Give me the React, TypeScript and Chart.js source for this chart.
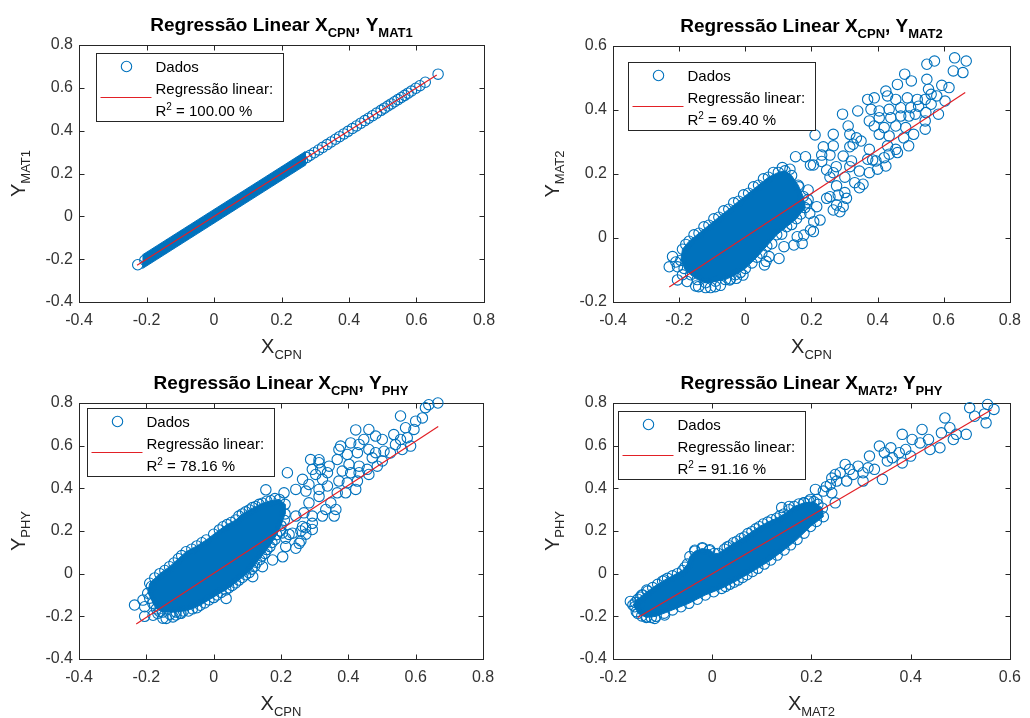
import React, { useEffect, useRef } from 'react';
import { Chart, registerables } from 'chart.js';

Chart.register(...registerables);

const FONT = '"Liberation Sans", Arial, Helvetica, sans-serif';
const BLUE = 'rgb(0,114,189)';
const RED = 'rgb(226,32,38)';
const AXIS = '#262626';
const TICK_TEXT = '#333333';
const MARK_R = 5.2;

// ---------- tick labels ----------
const ticksA_X = [-0.4, -0.2, 0, 0.2, 0.4, 0.6, 0.8];
const ticksA_Y = [-0.4, -0.2, 0, 0.2, 0.4, 0.6, 0.8];
const ticksB_X = [-0.4, -0.2, 0, 0.2, 0.4, 0.6, 0.8];
const ticksB_Y = [-0.2, 0, 0.2, 0.4, 0.6];
const ticksC_X = [-0.4, -0.2, 0, 0.2, 0.4, 0.6, 0.8];
const ticksC_Y = [-0.4, -0.2, 0, 0.2, 0.4, 0.6, 0.8];
const ticksD_X = [-0.2, 0, 0.2, 0.4, 0.6];
const ticksD_Y = [-0.4, -0.2, 0, 0.2, 0.4, 0.6, 0.8];

// ---------- R² values ----------
const r2A = '100.00';
const r2B = '69.40';
const r2C = '78.16';
const r2D = '91.16';

// ---------- Panel A: X_CPN vs Y_MAT1 ----------
const fitAX = [-0.228, 0.66];
const fitAY = [-0.228, 0.66];
const coreAX = [-0.212, 0.27, 0.27, -0.212];
const coreAY = [-0.18, 0.302, 0.238, -0.244];
const ptsAX = [-0.226, -0.205, -0.19, -0.17, -0.15, -0.13, -0.11, -0.09, -0.07, -0.05, -0.03, -0.01, 0.01, 0.03, 0.05, 0.07, 0.09, 0.11, 0.13, 0.15, 0.17, 0.19, 0.21, 0.23, 0.25, 0.262, 0.275, 0.285, 0.297, 0.31, 0.322, 0.335, 0.347, 0.36, 0.372, 0.385, 0.397, 0.41, 0.422, 0.435, 0.447, 0.458, 0.47, 0.482, 0.495, 0.505, 0.515, 0.525, 0.535, 0.545, 0.555, 0.565, 0.575, 0.585, 0.598, 0.61, 0.626, 0.664];
const ptsAY = [-0.226, -0.205, -0.19, -0.17, -0.15, -0.13, -0.11, -0.09, -0.07, -0.05, -0.03, -0.01, 0.01, 0.03, 0.05, 0.07, 0.09, 0.11, 0.13, 0.15, 0.17, 0.19, 0.21, 0.23, 0.25, 0.262, 0.275, 0.285, 0.297, 0.31, 0.322, 0.335, 0.347, 0.36, 0.372, 0.385, 0.397, 0.41, 0.422, 0.435, 0.447, 0.458, 0.47, 0.482, 0.495, 0.505, 0.515, 0.525, 0.535, 0.545, 0.555, 0.565, 0.575, 0.585, 0.598, 0.61, 0.626, 0.664];

// ---------- Panel B: X_CPN vs Y_MAT2 ----------
const fitBX = [-0.23, 0.665];
const fitBY = [-0.153, 0.455];
const coreBX = [-0.195, -0.19, -0.17, -0.14, -0.11, -0.08, -0.05, -0.02, 0.01, 0.04, 0.07, 0.1, 0.12, 0.14, 0.16, 0.175, 0.18, 0.155, 0.125, 0.095, 0.065, 0.035, 0.0, -0.03, -0.06, -0.09, -0.12, -0.145, -0.165, -0.185];
const coreBY = [-0.07, -0.035, -0.01, 0.015, 0.04, 0.065, 0.09, 0.115, 0.14, 0.165, 0.19, 0.205, 0.21, 0.195, 0.165, 0.13, 0.095, 0.06, 0.035, 0.01, -0.025, -0.06, -0.095, -0.115, -0.13, -0.135, -0.14, -0.13, -0.115, -0.095];
const ptsBX = [0.633, 0.668, 0.629, 0.658, 0.549, 0.572, 0.482, 0.502, 0.46, 0.549, 0.594, 0.616, 0.425, 0.43, 0.39, 0.37, 0.455, 0.49, 0.52, 0.544, 0.562, 0.579, 0.604, 0.554, 0.294, 0.34, 0.38, 0.405, 0.435, 0.47, 0.5, 0.524, 0.562, 0.546, 0.584, 0.375, 0.405, 0.44, 0.47, 0.495, 0.514, 0.544, 0.39, 0.42, 0.455, 0.485, 0.509, 0.544, 0.311, 0.316, 0.336, 0.326, 0.35, 0.266, 0.405, 0.435, 0.479, 0.494, 0.375, 0.43, 0.455, 0.46, 0.435, 0.266, 0.296, 0.321, 0.37, 0.395, 0.42, 0.425, 0.345, 0.375, 0.4, 0.331, 0.356, 0.345, 0.276, 0.301, 0.266, 0.197, 0.231, 0.256, 0.316, 0.385, 0.301, 0.316, 0.256, 0.281, 0.306, 0.246, 0.276, 0.266, 0.286, 0.296, 0.226, 0.207, 0.197, 0.177, 0.172, 0.216, 0.256, 0.072, 0.102, 0.058, 0.147, 0.206, 0.211, 0.236, 0.182, 0.152, 0.206, 0.231, 0.246, 0.275, -0.23, -0.205, -0.22, -0.205, -0.176, -0.141, -0.091, -0.047, -0.027, -0.007, 0.063, -0.21, -0.19, -0.12, 0.162, 0.19, 0.195, 0.165, 0.117, 0.157,
  -0.18, -0.155, -0.125, -0.095, -0.065, -0.035, -0.005, 0.025, 0.055, 0.085, 0.112, 0.135, -0.15, -0.105, -0.075, -0.045, -0.015, 0.02, 0.05, 0.08, 0.11, 0.14, 0.168, 0.185, 0.19];
const ptsBY = [0.563, 0.553, 0.522, 0.517, 0.543, 0.553, 0.512, 0.491, 0.48, 0.496, 0.477, 0.47, 0.459, 0.444, 0.438, 0.433, 0.433, 0.438, 0.433, 0.433, 0.449, 0.444, 0.428, 0.465, 0.387, 0.397, 0.402, 0.397, 0.402, 0.407, 0.407, 0.412, 0.418, 0.392, 0.387, 0.366, 0.376, 0.376, 0.381, 0.381, 0.387, 0.366, 0.35, 0.345, 0.35, 0.345, 0.324, 0.34, 0.35, 0.324, 0.313, 0.293, 0.303, 0.324, 0.324, 0.319, 0.313, 0.288, 0.277, 0.288, 0.277, 0.267, 0.262, 0.288, 0.256, 0.241, 0.246, 0.241, 0.251, 0.225, 0.209, 0.204, 0.215, 0.173, 0.168, 0.157, 0.163, 0.142, 0.204, 0.228, 0.259, 0.259, 0.285, 0.244, 0.19, 0.223, 0.19, 0.134, 0.124, 0.124, 0.103, 0.0875, 0.082, 0.098, 0.056, 0.051, 0.025, 0.009, -0.017, 0.098, 0.129, -0.058, -0.064, -0.084, -0.022, 0.02, 0.322, 0.285, 0.254, 0.254, 0.228, 0.239, 0.2125, 0.223, -0.09, -0.09, -0.058, -0.131, -0.136, -0.152, -0.152, -0.131, -0.126, -0.116, -0.073, -0.075, -0.115, -0.155, 0.16, 0.12, 0.077, 0.098, -0.027, 0.004,
  -0.02, 0.01, 0.035, 0.06, 0.085, 0.11, 0.135, 0.16, 0.185, 0.205, 0.22, 0.215, -0.15, -0.155, -0.148, -0.128, -0.108, -0.078, -0.048, -0.018, 0.012, 0.042, 0.075, 0.11, 0.15];

// ---------- Panel C: X_CPN vs Y_PHY ----------
const fitCX = [-0.23, 0.667];
const fitCY = [-0.236, 0.69];
const coreCX = [-0.196, -0.19, -0.16, -0.131, -0.105, -0.082, -0.05, -0.022, 0.017, 0.04, 0.066, 0.085, 0.106, 0.125, 0.145, 0.17, 0.195, 0.212, 0.212, 0.2, 0.187, 0.173, 0.158, 0.143, 0.128, 0.113, 0.095, 0.075, 0.055, 0.036, 0.01, -0.014, -0.04, -0.063, -0.09, -0.112, -0.151, -0.17, -0.181];
const coreCY = [-0.092, -0.045, 0.0, 0.033, 0.07, 0.103, 0.13, 0.158, 0.205, 0.23, 0.252, 0.28, 0.299, 0.315, 0.33, 0.342, 0.348, 0.325, 0.28, 0.225, 0.183, 0.146, 0.113, 0.083, 0.053, 0.021, -0.005, -0.03, -0.055, -0.076, -0.1, -0.123, -0.148, -0.165, -0.175, -0.18, -0.18, -0.165, -0.139];
const ptsCX = [0.555, 0.629, 0.639, 0.666, 0.6, 0.62, 0.57, 0.595, 0.535, 0.555, 0.575, 0.54, 0.56, 0.525, 0.585, 0.461, 0.481, 0.501, 0.446, 0.432, 0.407, 0.377, 0.427, 0.461, 0.481, 0.506, 0.471, 0.501, 0.372, 0.397, 0.367, 0.402, 0.432, 0.456, 0.461, 0.486, 0.432, 0.407, 0.382, 0.372, 0.397, 0.427, 0.422, 0.392, 0.367, 0.343, 0.338, 0.318, 0.303, 0.323, 0.313, 0.338, 0.288, 0.313, 0.293, 0.219, 0.264, 0.244, 0.274, 0.283, 0.209, 0.348, 0.363, 0.333, 0.323, 0.358, 0.283, 0.268, 0.293, 0.244, 0.273, 0.293, 0.259, 0.224, 0.204, 0.155, 0.313, 0.422, 0.274, 0.254, 0.214, 0.175, 0.145, 0.116, 0.214, 0.234, 0.259, 0.244, 0.205, 0.037, 0.264, 0.293, 0.313, -0.235, -0.205, -0.205, -0.18, -0.151, -0.121, -0.097, -0.21, -0.166, -0.141, -0.112,
  -0.185, -0.175, -0.145, -0.118, -0.095, -0.065, -0.035, 0.0, 0.028, 0.052, 0.075, 0.095, 0.115, 0.135, 0.158, 0.182, -0.19, -0.16, -0.13, -0.1, -0.075, -0.05, -0.027, 0.0, 0.022, 0.045, 0.065, 0.085, 0.105, 0.122, 0.137, 0.152, 0.167, 0.182, 0.198, 0.21];
const ptsCY = [0.739, 0.778, 0.792, 0.8, 0.715, 0.73, 0.684, 0.676, 0.652, 0.629, 0.637, 0.605, 0.582, 0.566, 0.598, 0.676, 0.645, 0.629, 0.629, 0.606, 0.613, 0.598, 0.567, 0.582, 0.567, 0.574, 0.543, 0.528, 0.582, 0.559, 0.535, 0.512, 0.504, 0.489, 0.465, 0.504, 0.473, 0.473, 0.481, 0.434, 0.426, 0.434, 0.395, 0.379, 0.379, 0.504, 0.473, 0.489, 0.465, 0.442, 0.395, 0.411, 0.535, 0.52, 0.489, 0.473, 0.442, 0.395, 0.387, 0.418, 0.379, 0.332, 0.301, 0.301, 0.27, 0.27, 0.332, 0.285, 0.27, 0.27, 0.215, 0.207, 0.2, 0.184, 0.191, 0.393, 0.534, 0.674, 0.185, 0.142, 0.127, 0.064, 0.033, -0.014, 0.166, 0.19, 0.153, 0.119, 0.079, -0.116, 0.221, 0.236, 0.362, -0.147, -0.155, -0.2, -0.195, -0.209, -0.203, -0.186, -0.124, -0.186, -0.21, -0.194,
  -0.06, -0.02, 0.015, 0.05, 0.085, 0.115, 0.145, 0.185, 0.22, 0.24, 0.27, 0.29, 0.31, 0.325, 0.34, 0.352, -0.115, -0.178, -0.19, -0.185, -0.175, -0.16, -0.137, -0.112, -0.088, -0.066, -0.043, -0.018, 0.005, 0.035, 0.065, 0.095, 0.127, 0.16, 0.2, 0.25];

// ---------- Panel D: X_MAT2 vs Y_PHY ----------
const fitDX = [-0.15, 0.563];
const fitDY = [-0.205, 0.768];
const coreDX = [-0.16, -0.15, -0.14, -0.12, -0.1, -0.08, -0.06, -0.05, -0.045, -0.035, -0.02, -0.005, 0.004, 0.012, 0.025, 0.035, 0.05, 0.065, 0.08, 0.095, 0.112, 0.13, 0.145, 0.165, 0.185, 0.205, 0.222, 0.224, 0.198, 0.171, 0.145, 0.118, 0.092, 0.07, 0.052, 0.035, 0.019, -0.014, -0.047, -0.08, -0.113, -0.133, -0.15];
const coreDY = [-0.147, -0.12, -0.1, -0.065, -0.035, -0.01, 0.015, 0.045, 0.08, 0.105, 0.118, 0.112, 0.095, 0.095, 0.115, 0.13, 0.152, 0.172, 0.197, 0.22, 0.242, 0.26, 0.28, 0.315, 0.332, 0.337, 0.307, 0.267, 0.221, 0.16, 0.111, 0.064, 0.025, -0.005, -0.03, -0.05, -0.069, -0.1, -0.139, -0.17, -0.2, -0.205, -0.186];
const ptsDX = [0.519, 0.555, 0.549, 0.529, 0.552, 0.568, 0.469, 0.479, 0.492, 0.512, 0.462, 0.486, 0.459, 0.436, 0.423, 0.439, 0.419, 0.403, 0.383, 0.39, 0.4, 0.377, 0.36, 0.347, 0.337, 0.363, 0.383, 0.353, 0.317, 0.314, 0.327, 0.294, 0.277, 0.268, 0.258, 0.284, 0.304, 0.271, 0.251, 0.248, 0.238, 0.224, 0.208, 0.211, 0.198, 0.185, 0.241, 0.248, 0.343, 0.304, 0.241, 0.155, 0.14, 0.23, -0.156, -0.142, -0.132, -0.153, -0.132, -0.116, -0.096, -0.096, -0.165, -0.145,
  -0.155, -0.145, -0.13, -0.11, -0.09, -0.07, -0.055, 0.03, 0.043, 0.058, 0.072, 0.088, 0.103, 0.12, 0.137, 0.155, 0.175, 0.195, 0.213, 0.21, 0.185, 0.158, 0.131, 0.105, 0.081, 0.061, 0.044, 0.027, 0.003, -0.03, -0.063, -0.097, -0.123, -0.142, -0.035, -0.02, -0.006];
const ptsDY = [0.778, 0.793, 0.749, 0.738, 0.707, 0.77, 0.73, 0.684, 0.653, 0.653, 0.66, 0.629, 0.59, 0.629, 0.676, 0.582, 0.613, 0.629, 0.653, 0.582, 0.551, 0.567, 0.59, 0.567, 0.598, 0.543, 0.519, 0.528, 0.551, 0.496, 0.489, 0.504, 0.489, 0.512, 0.473, 0.465, 0.473, 0.434, 0.434, 0.465, 0.418, 0.387, 0.395, 0.348, 0.348, 0.332, 0.379, 0.332, 0.442, 0.434, 0.448, 0.315, 0.31, 0.408, -0.155, -0.1, -0.077, -0.178, -0.202, -0.21, -0.194, -0.03, -0.13, -0.14,
  -0.135, -0.11, -0.082, -0.05, -0.022, 0.0, 0.03, 0.125, 0.145, 0.165, 0.188, 0.21, 0.233, 0.253, 0.272, 0.3, 0.327, 0.34, 0.325, 0.245, 0.19, 0.135, 0.087, 0.045, 0.01, -0.018, -0.04, -0.06, -0.085, -0.12, -0.155, -0.185, -0.205, -0.198, 0.11, 0.122, 0.108];

// ---------- layout (plot-box rectangles on the page) ----------
const RECT_A = { l: 79, t: 45, r: 484, b: 302 };
const RECT_B = { l: 613, t: 46, r: 1016, b: 302 };
const RECT_C = { l: 79, t: 403, r: 483, b: 659 };
const RECT_D = { l: 613, t: 403, r: 1016, b: 659 };
const W = 1030;
const H = 718;
const Y_AXIS_W = 60;
const X_AXIS_H = 30;

const panels = [
  { key: 'A', rect: RECT_A, xTicks: ticksA_X, yTicks: ticksA_Y, fitX: fitAX, fitY: fitAY, coreX: coreAX, coreY: coreAY, coreMarks: false, ptsX: ptsAX, ptsY: ptsAY, tx: 'CPN', ty: 'MAT1', xl: 'CPN', yl: 'MAT1', r2: r2A, leg: [17, 8] },
  { key: 'B', rect: RECT_B, xTicks: ticksB_X, yTicks: ticksB_Y, fitX: fitBX, fitY: fitBY, coreX: coreBX, coreY: coreBY, coreMarks: true, ptsX: ptsBX, ptsY: ptsBY, tx: 'CPN', ty: 'MAT2', xl: 'CPN', yl: 'MAT2', r2: r2B, leg: [15, 16] },
  { key: 'C', rect: RECT_C, xTicks: ticksC_X, yTicks: ticksC_Y, fitX: fitCX, fitY: fitCY, coreX: coreCX, coreY: coreCY, coreMarks: true, ptsX: ptsCX, ptsY: ptsCY, tx: 'CPN', ty: 'PHY', xl: 'CPN', yl: 'PHY', r2: r2C, leg: [8, 5] },
  { key: 'D', rect: RECT_D, xTicks: ticksD_X, yTicks: ticksD_Y, fitX: fitDX, fitY: fitDY, coreX: coreDX, coreY: coreDY, coreMarks: true, ptsX: ptsDX, ptsY: ptsDY, tx: 'MAT2', ty: 'PHY', xl: 'MAT2', yl: 'PHY', r2: r2D, leg: [5, 8] },
];

type Part = { t: string; size: number; bold?: boolean; dy?: number };

function fontOf(p: Part) {
  return `${p.bold ? 'bold ' : ''}${p.size}px ${FONT}`;
}
function richWidth(ctx: CanvasRenderingContext2D, parts: Part[]) {
  let w = 0;
  for (const p of parts) {
    ctx.font = fontOf(p);
    w += ctx.measureText(p.t).width;
  }
  return w;
}
function drawRich(ctx: CanvasRenderingContext2D, parts: Part[], x: number, y: number, align: 'left' | 'center') {
  let cx = align === 'center' ? x - richWidth(ctx, parts) / 2 : x;
  ctx.textAlign = 'left';
  ctx.textBaseline = 'alphabetic';
  for (const p of parts) {
    ctx.font = fontOf(p);
    ctx.fillText(p.t, cx, y + (p.dy || 0));
    cx += ctx.measureText(p.t).width;
  }
}

const zip = (xs: number[], ys: number[]) => xs.map((x, i) => ({ x, y: ys[i] }));
const fmtTick = (v: any) => {
  const r = Math.round(Number(v) * 10) / 10;
  return r === 0 ? '0' : String(r);
};

function makeDecor(p: any) {
  return {
    id: 'decor' + p.key,
    beforeDatasetsDraw(chart: any) {
      const { ctx, chartArea: a, scales } = chart;
      ctx.save();
      ctx.strokeStyle = AXIS;
      ctx.lineWidth = 1;
      const L = Math.round(a.left) + 0.5;
      const T = Math.round(a.top) + 0.5;
      const R = Math.round(a.right) + 0.5;
      const B = Math.round(a.bottom) + 0.5;
      ctx.strokeRect(L, T, R - L, B - T);
      const tl = 5;
      ctx.beginPath();
      for (const v of p.xTicks) {
        const x = Math.round(scales.x.getPixelForValue(v)) + 0.5;
        ctx.moveTo(x, B); ctx.lineTo(x, B - tl);
        ctx.moveTo(x, T); ctx.lineTo(x, T + tl);
      }
      for (const v of p.yTicks) {
        const y = Math.round(scales.y.getPixelForValue(v)) + 0.5;
        ctx.moveTo(L, y); ctx.lineTo(L + tl, y);
        ctx.moveTo(R, y); ctx.lineTo(R - tl, y);
      }
      ctx.stroke();
      ctx.restore();
    },
    afterDraw(chart: any) {
      const { ctx, chartArea: a } = chart;
      const cxm = (a.left + a.right) / 2;
      const cym = (a.top + a.bottom) / 2;
      ctx.save();
      // title
      ctx.fillStyle = '#000';
      drawRich(ctx, [
        { t: 'Regressão Linear X', size: 19, bold: true },
        { t: p.tx, size: 13, bold: true, dy: 6 },
        { t: ', Y', size: 19, bold: true },
        { t: p.ty, size: 13, bold: true, dy: 6 },
      ], cxm, a.top - 14, 'center');
      // x label
      ctx.fillStyle = AXIS;
      drawRich(ctx, [{ t: 'X', size: 20 }, { t: p.xl, size: 13, dy: 6 }], cxm, a.bottom + 51, 'center');
      // y label
      ctx.save();
      ctx.translate(a.left - 54, cym);
      ctx.rotate(-Math.PI / 2);
      drawRich(ctx, [{ t: 'Y', size: 20 }, { t: p.yl, size: 13, dy: 5 }], 0, 0, 'center');
      ctx.restore();
      // legend
      const bw = 187, bh = 68;
      const bx = Math.round(a.left + p.leg[0]) + 0.5;
      const by = Math.round(a.top + p.leg[1]) + 0.5;
      ctx.fillStyle = '#fff';
      ctx.fillRect(bx, by, bw, bh);
      ctx.strokeStyle = AXIS;
      ctx.lineWidth = 1;
      ctx.strokeRect(bx, by, bw, bh);
      ctx.beginPath();
      ctx.arc(bx + 30, by + 13, MARK_R, 0, Math.PI * 2);
      ctx.strokeStyle = BLUE;
      ctx.lineWidth = 1.1;
      ctx.stroke();
      ctx.beginPath();
      ctx.moveTo(bx + 4, by + 44);
      ctx.lineTo(bx + 55, by + 44);
      ctx.strokeStyle = RED;
      ctx.lineWidth = 1;
      ctx.stroke();
      ctx.fillStyle = '#000';
      drawRich(ctx, [{ t: 'Dados', size: 15 }], bx + 59, by + 18.5, 'left');
      drawRich(ctx, [{ t: 'Regressão linear:', size: 15 }], bx + 59, by + 40.5, 'left');
      drawRich(ctx, [{ t: 'R', size: 15 }, { t: '2', size: 10, dy: -6 }, { t: ' = ' + p.r2 + ' %', size: 15 }], bx + 59, by + 62.5, 'left');
      ctx.restore();
    },
  };
}

function makeConfig(p: any): any {
  const r = p.rect;
  return {
    type: 'scatter',
    data: {
      datasets: [
        {
          type: 'line', data: zip(p.fitX, p.fitY), borderColor: RED, borderWidth: 1.2,
          pointRadius: 0, fill: false, tension: 0, order: 0,
        },
        {
          type: 'scatter', data: zip(p.ptsX, p.ptsY), pointRadius: MARK_R, pointBorderWidth: 1.1,
          borderColor: BLUE, backgroundColor: 'rgba(0,0,0,0)', clip: false, order: 1,
        },
        {
          type: 'line', data: zip(p.coreX, p.coreY), borderColor: BLUE, borderWidth: 1,
          backgroundColor: BLUE, fill: 'shape', tension: 0, order: 2, clip: false,
          pointRadius: p.coreMarks ? MARK_R : 0, pointBorderWidth: 1.1, pointBorderColor: BLUE,
          pointBackgroundColor: 'rgba(0,0,0,0)',
        },
      ],
    },
    options: {
      responsive: false,
      animation: false,
      events: [],
      layout: {
        padding: { left: r.l - Y_AXIS_W, right: W - r.r, top: r.t, bottom: H - r.b - X_AXIS_H },
      },
      plugins: { legend: { display: false }, tooltip: { enabled: false }, title: { display: false } },
      scales: {
        x: {
          type: 'linear', position: 'bottom',
          min: p.xTicks[0], max: p.xTicks[p.xTicks.length - 1],
          grid: { display: false, drawTicks: false }, border: { display: false },
          ticks: { font: { family: FONT, size: 16 }, color: TICK_TEXT, padding: 9, autoSkip: false, maxRotation: 0, callback: fmtTick },
          afterBuildTicks: (s: any) => { s.ticks = p.xTicks.map((v: number) => ({ value: v })); },
          afterFit: (s: any) => { s.height = X_AXIS_H; },
        },
        y: {
          type: 'linear', position: 'left',
          min: p.yTicks[0], max: p.yTicks[p.yTicks.length - 1],
          grid: { display: false, drawTicks: false }, border: { display: false },
          ticks: { font: { family: FONT, size: 16 }, color: TICK_TEXT, padding: 6, autoSkip: false, callback: fmtTick },
          afterBuildTicks: (s: any) => { s.ticks = p.yTicks.map((v: number) => ({ value: v })); },
          afterFit: (s: any) => { s.width = Y_AXIS_W; },
        },
      },
    },
    plugins: [makeDecor(p)],
  };
}

function Panel({ p }: { p: any }) {
  const ref = useRef<HTMLCanvasElement | null>(null);
  useEffect(() => {
    if (!ref.current) return;
    const chart = new Chart(ref.current, makeConfig(p));
    return () => chart.destroy();
  }, [p]);
  return (
    <canvas
      ref={ref}
      width={W}
      height={H}
      style={{ position: 'absolute', left: 0, top: 0, width: W, height: H }}
    />
  );
}

export default function App() {
  return (
    <div style={{ position: 'fixed', left: 0, top: 0, width: W, height: H, background: '#fff', overflow: 'hidden' }}>
      {panels.map((p) => (
        <Panel key={p.key} p={p} />
      ))}
    </div>
  );
}
